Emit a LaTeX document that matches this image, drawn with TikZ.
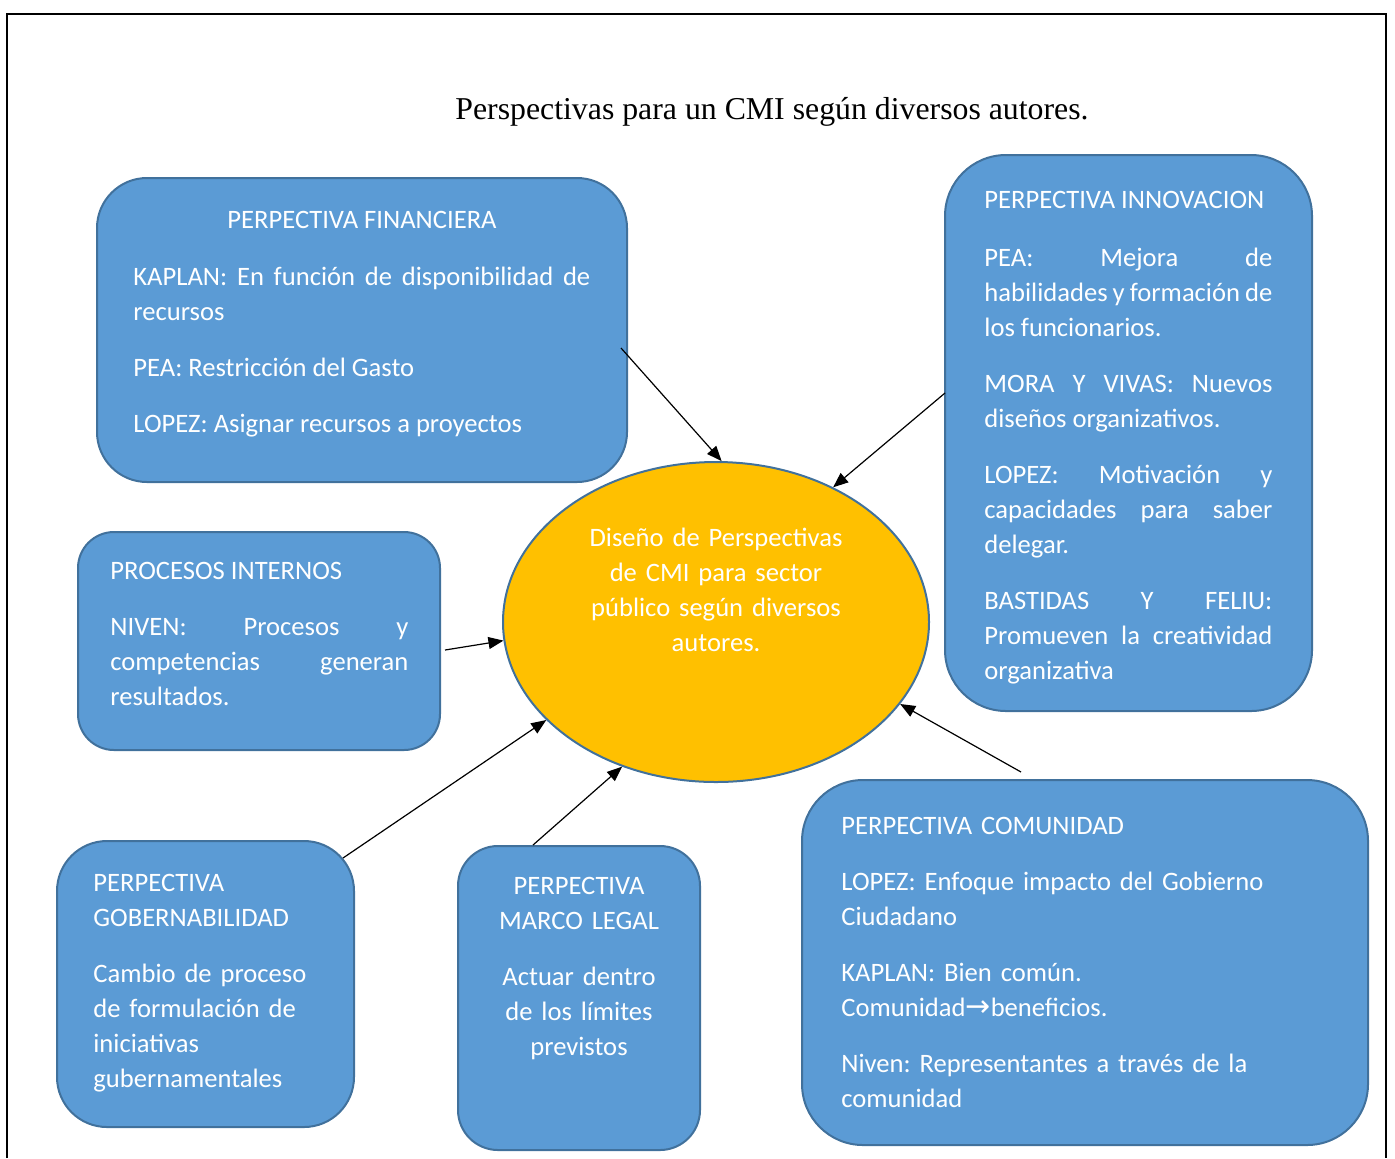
\documentclass[tikz,border=0pt]{standalone}
\usepackage{fontspec}
\setmainfont{Carlito}
\newfontfamily\titlefont{Liberation Serif}
\newfontfamily\arrowfont{DejaVu Sans}
\usepackage{tikz}
\usetikzlibrary{shapes.geometric, arrows.meta, calc}
\usepackage{xcolor}
\definecolor{panelfill}{HTML}{5B9BD5}
\definecolor{panelline}{HTML}{41719C}
\definecolor{cmifill}{HTML}{FFC000}
\newcommand{\panelfont}{\fontsize{13.3}{17.5}\selectfont\frenchspacing}
\hbadness=10000
\tikzstyle{panel} = [rectangle, draw=panelline, line width=1pt, fill=panelfill]
\tikzstyle{paneltext} = [anchor=base west, inner sep=0pt, text=white, font=\panelfont]
\tikzstyle{link} = [line width=0.6pt, -{Triangle[length=7.5pt, width=6pt]}]

\begin{document}
\begin{tikzpicture}[x=0.5pt, y=-0.5pt]
  \useasboundingbox (0,0) rectangle (1395,1158);
  % frame and title
  \draw[line width=1.25pt] (7,1158) -- (7,14) -- (1386,14) -- (1386,1158);
  \node[anchor=base, inner sep=0pt, font=\titlefont\fontsize{15.9}{19}\selectfont] (title) at (772,119) {Perspectivas para un CMI según diversos autores.};

  % centre
  \node[ellipse, draw=panelline, line width=1pt, fill=cmifill, minimum width=213pt, minimum height=160pt] (cmi) at (716,622) {};
  \node[paneltext, anchor=base, text width=150pt, align=center] (cmiText) at (716,546) {Diseño de Perspectivas\\de CMI para sector\\público según diversos\\autores.};

  % boxes
  \node[panel, rounded corners=25pt, minimum width=265pt, minimum height=152pt] (fin) at (362,330) {};
  \node[panel, rounded corners=30.5pt, minimum width=183.5pt, minimum height=278pt] (inno) at (1128.5,433) {};
  \node[panel, rounded corners=18pt, minimum width=181pt, minimum height=109pt] (proc) at (259,641) {};
  \node[panel, rounded corners=25pt, minimum width=148.5pt, minimum height=143pt] (gov) at (205.5,984) {};
  \node[panel, rounded corners=20pt, minimum width=121pt, minimum height=152pt] (legal) at (579,998) {};
  \node[panel, rounded corners=30.5pt, minimum width=283pt, minimum height=182.5pt] (com) at (1085,962.5) {};

  % box texts
  \node[paneltext, anchor=base] (finTitle) at (362,228) {PERPECTIVA FINANCIERA};
  \node[paneltext, text width=228.5pt, align=justify] (finText) at (133,285) {KAPLAN: En función de disponibilidad de\linebreak recursos\\[10.5pt]PEA: Restricción del Gasto\\[10.5pt]LOPEZ: Asignar recursos a proyectos};
  \node[paneltext, text width=144pt, align=justify] (innoText) at (984,208) {PERPECTIVA INNOVACION\\[11.5pt]PEA: Mejora de\linebreak habilidades y formación de\linebreak los funcionarios.\\[10.5pt]MORA Y VIVAS: Nuevos\linebreak diseños organizativos.\\[10.5pt]LOPEZ: Motivación y\linebreak capacidades para saber\linebreak delegar.\\[10.5pt]BASTIDAS Y FELIU:\linebreak Promueven la creatividad\linebreak organizativa};
  \node[paneltext, text width=149pt, align=justify] (procText) at (110,579) {PROCESOS INTERNOS\\[10.5pt]NIVEN: Procesos y\linebreak competencias generan\linebreak resultados.};
  \node[paneltext, text width=125pt, align=left] (govText) at (93,891) {PERPECTIVA\\GOBERNABILIDAD\\[10.5pt]Cambio de proceso\\de formulación de\\iniciativas\\gubernamentales};
  \node[paneltext, anchor=base, text width=110pt, align=center] (legalText) at (579,894) {PERPECTIVA\\MARCO LEGAL\\[10.5pt]Actuar dentro\\de los límites\\previstos};
  \node[paneltext, text width=250pt, align=left] (comText) at (841,834) {PERPECTIVA COMUNIDAD\\[10.5pt]LOPEZ: Enfoque impacto del Gobierno\\Ciudadano\\[10.5pt]KAPLAN: Bien común.\\Comunidad{\arrowfont\fontsize{15}{17.5}\selectfont →}beneficios.\\[10.5pt]Niven: Representantes a través de la\\comunidad};

  % arrow starts
  \coordinate (finOut) at (621,348);
  \coordinate (innoOut) at (945,393);
  \coordinate (procOut) at (445,650);
  \coordinate (govOut) at (343,858);
  \coordinate (legalOut) at (533,845);
  \coordinate (comOut) at (1021,772);

  \draw[link] (finOut) -- (cmi.88);
  \draw[link] (innoOut) -- (cmi.49);
  \draw[link] (procOut) -- (cmi.185);
  \draw[link] (govOut) -- (cmi.210);
  \draw[link] (legalOut) -- (cmi.237);
  \draw[link] (comOut) -- (cmi.336);
\end{tikzpicture}
\end{document}
